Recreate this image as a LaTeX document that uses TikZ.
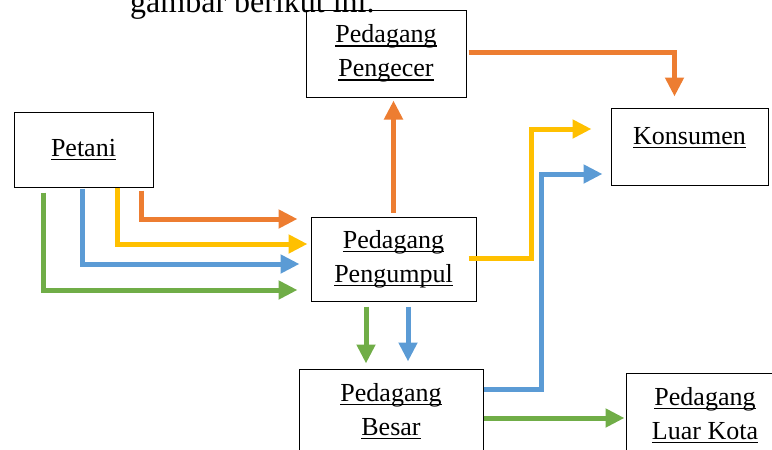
\documentclass[tikz,border=0pt]{standalone}
\usepackage{fontspec}
\setmainfont{Liberation Serif}
\usetikzlibrary{arrows.meta,calc}
\newcommand{\garis}[1]{\leavevmode\setbox0\hbox{#1}\rlap{\copy0}\rule[-4pt]{\wd0}{1.4pt}}
\definecolor{orng}{HTML}{ED7D31}
\definecolor{kuning}{HTML}{FFC000}
\definecolor{biru}{HTML}{5B9BD5}
\definecolor{hijau}{HTML}{70AD47}
\tikzset{
  kotak/.style={draw,line width=1pt,minimum width=#1,align=center,inner sep=0pt,
    font=\fontsize{26}{34}\selectfont},
  panah/.style={line width=5pt,color=#1,-{Triangle[length=19pt,width=18pt]}}
}

\begin{document}
\begin{tikzpicture}[x=1pt,y=-1pt]
    \useasboundingbox (0,0) rectangle (772,450);
    \clip (0,0) rectangle (772,450);
    \node[anchor=base west,inner sep=0pt,font=\fontsize{32}{38}\selectfont] (judul) at (130,12.5) {gambar berikut ini.};
    \node[kotak=139pt,minimum height=75pt] (petani) at (83.5,149.5) {\garis{Petani}};
    \node[kotak=160pt,minimum height=87pt] (pengecer) at (386,53.5) {\garis{Pedagang}\\\garis{Pengecer}};
    \node[kotak=157pt,minimum height=77pt] (konsumen) at (689.5,146.5) {\garis{Konsumen}\\[-12pt]~};
    \node[kotak=165pt,minimum height=84pt] (pengumpul) at (393.5,259) {\garis{Pedagang}\\\garis{Pengumpul}};
    \node[kotak=184pt,minimum height=84pt] (besar) at (391,411) {\garis{Pedagang}\\\garis{Besar}};
    \node[kotak=158pt,minimum height=84pt] (luarkota) at (705,415) {\garis{Pedagang}\\\garis{Luar Kota}};
    \coordinate (turunH) at ($(pengumpul.south)+(-27.5,5)$);
    \coordinate (turunB) at ($(pengumpul.south)+(14.5,5)$);
    \draw[panah=orng,shorten >=13pt] ($(petani.south)+(57.5,3)$) |- ($(pengumpul.west)+(0,-40)$);
    \draw[panah=kuning,shorten >=3pt] ($(petani.south)+(33.5,0)$) |- ($(pengumpul.west)+(0,-15)$);
    \draw[panah=biru,shorten >=11pt] ($(petani.south)+(-1.5,1)$) |- ($(pengumpul.west)+(0,5)$);
    \draw[panah=hijau,shorten >=13pt] ($(petani.south)+(-40.5,5)$) |- ($(pengumpul.west)+(0,31)$);
    \draw[panah=orng,shorten >=3pt] ($(pengumpul.north)+(0,-4)$) -- (pengumpul.north |- pengecer.south);
    \draw[panah=orng,shorten >=11pt] ($(pengecer.east)+(2,-1)$) -| ($(konsumen.north)+(-15,0)$);
    \draw[panah=kuning,shorten >=19pt] ($(pengumpul.east)+(-8,-1)$) -- ++(63,0) |- ($(konsumen.west)+(0,-17.5)$);
    \draw[panah=biru,shorten >=8pt] ($(besar.east)+(0,-22)$) -- ++(58,0) |- ($(konsumen.west)+(0,27.5)$);
    \draw[panah=hijau,shorten >=1pt] ($(besar.east)+(0,7)$) -- ($(luarkota.west)+(0,3)$);
    \draw[panah=hijau,shorten >=5pt] (turunH) -- (turunH |- besar.north);
    \draw[panah=biru,shorten >=7pt] (turunB) -- (turunB |- besar.north);
\end{tikzpicture}
\end{document}
